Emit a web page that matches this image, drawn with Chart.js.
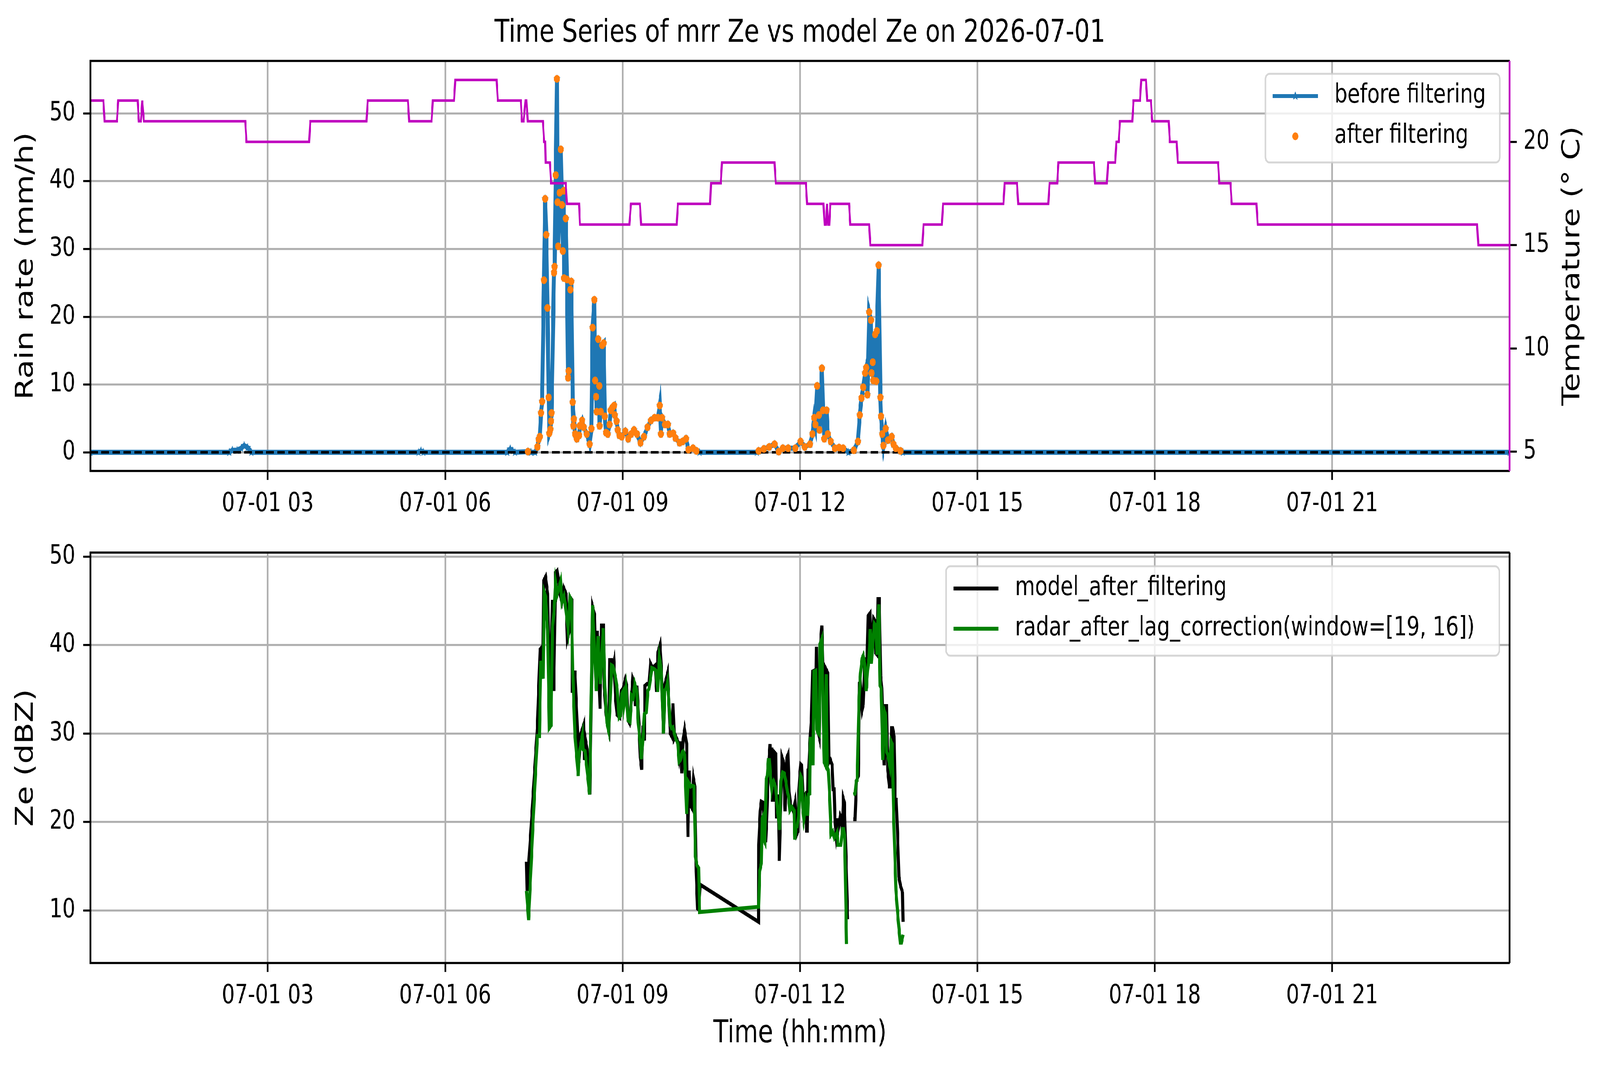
<!DOCTYPE html>
<html>
<head>
<meta charset="utf-8">
<title>Time Series of mrr Ze vs model Ze on 2026-07-01</title>
<script src="https://cdn.jsdelivr.net/npm/chart.js@4.4.1/dist/chart.umd.min.js"></script>
<style>
  html, body { margin: 0; padding: 0; background: #fff; overflow: hidden; }
  #wrap { position: relative; width: 5241px; height: 2740px; background: #fff; transform-origin: 0 0; }
  canvas { position: absolute; left: 0; }
  #topChart { top: 0; }
  #bottomChart { top: 1340px; }
</style>
</head>
<body>
<div id="wrap">
  <canvas id="topChart" width="5241" height="1380"></canvas>
  <canvas id="bottomChart" width="5241" height="1400"></canvas>
</div>
<script>
// the figure is laid out in 5241 x 2740 units and stretched to fill the window
const wrap = document.getElementById('wrap');
wrap.style.transform = 'scale(' + (window.innerWidth / 5241) + ',' + (window.innerHeight / 2740) + ')';

// all times are hours since 2026-07-01 00:00
const hourTicks = [3, 6, 9, 12, 15, 18, 21];
const rainTicks = [0, 10, 20, 30, 40, 50];
const tempTicks = [5, 10, 15, 20];
const zeTicks = [10, 20, 30, 40, 50];

// rain rate (mm/h); rainAfter is null where the filter dropped the sample
const rainTime = [
  0, 2.35, 2.40, 2.48, 2.55, 2.60, 2.66, 2.72, 5.55, 5.59, 5.63, 7.05, 7.10, 7.14, 7.18, 7.40, 7.45, 7.52,
  7.56, 7.58, 7.60, 7.62, 7.64, 7.67, 7.69, 7.71, 7.73, 7.75, 7.76, 7.78, 7.79, 7.80, 7.84, 7.85, 7.87, 7.89,
  7.90, 7.91, 7.935, 7.955, 7.975, 7.99, 8.005, 8.01, 8.04, 8.06, 8.078, 8.088, 8.117, 8.133, 8.157, 8.167,
  8.177, 8.196, 8.226, 8.265, 8.275, 8.315, 8.344, 8.394, 8.443, 8.473, 8.493, 8.522, 8.536, 8.552, 8.562,
  8.587, 8.607, 8.611, 8.631, 8.655, 8.680, 8.700, 8.720, 8.749, 8.779, 8.799, 8.828, 8.858, 8.868, 8.898,
  8.917, 8.947, 8.986, 9.046, 9.095, 9.145, 9.194, 9.243, 9.303, 9.362, 9.421, 9.480, 9.540, 9.599, 9.628,
  9.648, 9.668, 9.717, 9.767, 9.796, 9.856, 9.895, 9.964, 10.014, 10.073, 10.113, 10.191, 10.25, 10.30,
  11.27, 11.30, 11.39, 11.48, 11.57, 11.64, 11.71, 11.80, 11.92, 12.01, 12.08, 12.17, 12.21, 12.24, 12.26,
  12.29, 12.32, 12.33, 12.37, 12.39, 12.41, 12.45, 12.47, 12.52, 12.59, 12.66, 12.73, 12.82,
  12.91, 12.98, 13.01, 13.04, 13.07, 13.10, 13.12, 13.14, 13.17, 13.20, 13.21, 13.23, 13.24, 13.27, 13.29,
  13.30, 13.33, 13.36, 13.37, 13.39, 13.41, 13.45, 13.49, 13.55, 13.58, 13.62, 13.70, 13.74, 24.0
];
const rainBefore = [
  0, 0, 0.3, 0.3, 0.6, 1.0, 0.7, 0, 0, 0.2, 0, 0, 0.5, 0.2, 0, 0.1, 0, 0,
  0.8, 1.9, 2.3, 5.8, 7.5, 25.4, 37.4, 32.1, 21.3, 8.1, 2.8, 3.4, 4.6, 5.8, 26.5, 27.4, 40.9, 55.1,
  36.9, 30.4, 38.3, 44.7, 36.5, 29.7, 38.6, 25.7, 34.5, 25.5, 11.0, 12.0, 24.0, 25.2, 7.4, 3.9,
  4.9, 2.7, 2.0, 2.5, 3.9, 4.7, 3.7, 2.7, 1.2, 3.5, 18.4, 22.5, 10.6, 8.2, 6.0,
  16.7, 9.8, 3.9, 6.0, 15.8, 16.1, 5.3, 2.9, 2.7, 4.1, 6.2, 6.6, 6.9, 5.5, 4.6,
  3.3, 2.5, 2.3, 3.1, 2.0, 2.7, 3.3, 2.7, 1.4, 2.3, 3.7, 4.7, 5.1, 5.1, 6.9,
  2.7, 5.1, 4.1, 4.1, 2.7, 2.8, 2.1, 1.4, 1.6, 2.0, 0.4, 0.6, 0.2, 0,
  0, 0.2, 0.5, 0.8, 1.2, 0.1, 0.6, 0.6, 0.6, 1.6, 0.8, 1.2, 2.7, 5.1, 4.1,
  9.8, 5.5, 3.3, 12.4, 6.2, 2.0, 6.2, 2.7, 1.6, 0.6, 0.7, 0.6, 0,
  0.3, 1.6, 5.5, 8.0, 9.6, 11.7, 12.5, 8.5, 20.7, 19.5, 11.7, 13.3, 10.6, 17.4, 10.5,
  17.9, 27.6, 8.1, 5.3, 2.7, 1.0, 3.5, 1.8, 2.3, 1.2, 0.6, 0.2, 0, 0
];
const rainAfter = [
  null, null, null, null, null, null, null, null, null, null, null, null, null, null, null, 0.1, null, null,
  0.8, 1.9, 2.3, 5.8, 7.5, 25.4, 37.4, 32.1, 21.3, 8.1, 2.8, 3.4, 4.6, 5.8, 26.5, 27.4, 40.9, 55.1,
  36.9, 30.4, 38.3, 44.7, 36.5, 29.7, 38.6, 25.7, 34.5, 25.5, 11.0, 12.0, 24.0, 25.2, 7.4, 3.9,
  4.9, 2.7, 2.0, 2.5, 3.9, 4.7, 3.7, 2.7, 1.2, 3.5, 18.4, 22.5, 10.6, 8.2, 6.0,
  16.7, 9.8, 3.9, 6.0, 15.8, 16.1, 5.3, 2.9, 2.7, 4.1, 6.2, 6.6, 6.9, 5.5, 4.6,
  3.3, 2.5, 2.3, 3.1, 2.0, 2.7, 3.3, 2.7, 1.4, 2.3, 3.7, 4.7, 5.1, 5.1, 6.9,
  2.7, 5.1, 4.1, 4.1, 2.7, 2.8, 2.1, 1.4, 1.6, 2.0, 0.4, 0.6, 0.2, null,
  null, 0.2, 0.5, 0.8, 1.2, 0.1, 0.6, 0.6, 0.6, 1.6, 0.8, 1.2, 2.7, 5.1, 4.1,
  9.8, 5.5, 3.3, 12.4, 6.2, 2.0, 6.2, 2.7, 1.6, 0.6, 0.7, 0.6, null,
  0.3, 1.6, 5.5, 8.0, 9.6, 11.7, 12.5, 8.5, 20.7, 19.5, 11.7, 13.3, 10.6, 17.4, 10.5,
  17.9, 27.6, 8.1, 5.3, 2.7, 1.0, 3.5, 1.8, 2.3, 1.2, 0.6, 0.2, null, null
];
const baseTime = [0, 24];
const baseRain = [0, 0];

// temperature (deg C), corners of the 1-degree steps
const tempTime = [
  0, 0.22, 0.24, 0.45, 0.47, 0.80, 0.82, 0.855, 0.877, 0.905, 2.62, 2.64, 3.70, 3.72, 4.67, 4.69,
  5.37, 5.39, 5.77, 5.79, 6.15, 6.17, 6.87, 6.89, 7.28, 7.297, 7.327, 7.357, 7.376, 7.396,
  7.653, 7.673, 7.692, 7.70, 7.771, 7.791, 8.038, 8.058, 8.265, 8.279, 9.115, 9.141, 9.293, 9.312,
  9.915, 9.935, 10.48, 10.495, 10.66, 10.68, 11.57, 11.59, 12.10, 12.12, 12.397, 12.416, 12.440,
  12.457, 12.476, 12.495, 12.513, 12.83, 12.85, 13.17, 13.19, 14.07, 14.09, 14.40, 14.42, 15.44,
  15.46, 15.67, 15.69, 16.20, 16.22, 16.35, 16.37, 16.97, 16.99, 17.19, 17.21, 17.33, 17.35, 17.39,
  17.41, 17.62, 17.64, 17.75, 17.77, 17.85, 17.87, 17.935, 17.955, 18.235, 18.255, 18.37, 18.39,
  19.07, 19.09, 19.28, 19.30, 19.72, 19.74, 23.45, 23.47, 24.0
];
const tempValue = [
  22, 22, 21, 21, 22, 22, 21, 21, 22, 21, 21, 20, 20, 21, 21, 22,
  22, 21, 21, 22, 22, 23, 23, 22, 22, 21, 21, 22, 22, 21,
  21, 20, 20, 19, 19, 18, 18, 17, 17, 16, 16, 17, 17, 16,
  16, 17, 17, 18, 18, 19, 19, 18, 18, 17, 17, 16, 16,
  17, 16, 16, 17, 17, 16, 16, 15, 15, 16, 16, 17, 17,
  18, 18, 17, 17, 18, 18, 19, 19, 18, 18, 19, 19, 20, 20,
  21, 21, 22, 22, 23, 23, 22, 22, 21, 21, 20, 20, 19,
  19, 18, 18, 17, 17, 16, 16, 15, 15
];

// model Ze (dBZ) after filtering
const modelTime = [
  7.375, 7.385, 7.559, 7.605, 7.628, 7.651, 7.667, 7.697, 7.732, 7.750, 7.767, 7.813, 7.836, 7.866,
  7.893, 7.916, 7.939, 7.974, 8.008, 8.043, 8.066, 8.096, 8.112, 8.142, 8.151, 8.193, 8.239, 8.262,
  8.297, 8.343, 8.354, 8.377, 8.400, 8.446, 8.493, 8.527, 8.550, 8.573, 8.619, 8.642, 8.677, 8.688,
  8.723, 8.769, 8.781, 8.815, 8.838, 8.854, 8.884, 8.907, 8.953, 8.976, 9.011, 9.046, 9.069, 9.092,
  9.115, 9.138, 9.172, 9.207, 9.218, 9.242, 9.276, 9.299, 9.322, 9.345, 9.368, 9.380, 9.414, 9.449,
  9.472, 9.507, 9.553, 9.576, 9.599, 9.633, 9.656, 9.691, 9.714, 9.760, 9.783, 9.806, 9.829, 9.852,
  9.875, 9.898, 9.933, 9.956, 9.979, 10.002, 10.025, 10.048, 10.083, 10.106, 10.124, 10.147, 10.170,
  10.198, 10.221, 10.244, 10.267, 10.286, 10.313,
  11.300, 11.302, 11.327, 11.346, 11.373, 11.392, 11.419, 11.438, 11.456, 11.475, 11.493, 11.511,
  11.521, 11.534, 11.552, 11.563, 11.589, 11.600, 11.631, 11.650, 11.668, 11.696, 11.723, 11.748,
  11.760, 11.779, 11.797, 11.816, 11.843, 11.871, 11.889, 11.917, 11.945, 11.963, 11.981, 12.000,
  12.013, 12.028, 12.046, 12.065, 12.083, 12.098, 12.111, 12.124, 12.135, 12.148, 12.171, 12.194,
  12.212, 12.240, 12.264, 12.277, 12.295, 12.323, 12.347, 12.369, 12.387, 12.406, 12.430, 12.452,
  12.470, 12.489, 12.516, 12.544, 12.559, 12.577, 12.590, 12.608, 12.627, 12.640, 12.655, 12.682,
  12.701, 12.715, 12.734, 12.750, 12.774, 12.806, 12.850,
  12.903, 12.931, 12.953, 12.986, 13.005, 13.020, 13.051, 13.069, 13.097, 13.125, 13.152, 13.185,
  13.204, 13.226, 13.245, 13.263, 13.281, 13.304, 13.318, 13.341, 13.364, 13.383, 13.407, 13.425,
  13.447, 13.466, 13.484, 13.512, 13.536, 13.549, 13.567, 13.591, 13.609, 13.628, 13.650, 13.672,
  13.696, 13.733, 13.742
];
const modelZe = [
  15.5, 12.2, 30.7, 39.5, 39.7, 36.2, 47.3, 47.7, 45.8, 38.3, 30.7, 45.1, 34.8, 48.2,
  48.4, 47.3, 45.8, 44.9, 46.4, 45.8, 40.7, 41.5, 45.4, 45.1, 34.6, 37.1, 30.0, 26.7,
  30.0, 31.0, 27.0, 29.1, 28.2, 23.1, 44.3, 43.4, 35.9, 41.6, 32.8, 42.2, 42.2, 35.3,
  32.1, 30.6, 38.3, 38.3, 37.4, 38.0, 33.7, 32.1, 31.8, 34.8, 35.1, 36.1, 35.4, 31.5,
  31.2, 32.7, 36.2, 35.6, 33.1, 35.4, 31.2, 27.3, 25.9, 30.9, 29.2, 35.4, 35.6, 35.6,
  37.9, 37.4, 37.7, 34.7, 39.2, 40.0, 37.4, 30.0, 35.5, 36.8, 33.5, 30.0, 29.7, 33.4,
  29.4, 29.7, 29.1, 27.6, 29.1, 25.5, 29.4, 30.4, 28.8, 18.3, 25.8, 21.9, 21.6,
  24.9, 24.0, 14.4, 10.2, 10.1, 12.9,
  8.7, 17.4, 21.2, 22.3, 22.2, 20.4, 17.7, 20.4, 24.0, 27.0, 28.8, 24.6,
  28.4, 22.5, 22.5, 27.9, 27.7, 20.4, 23.1, 15.6, 20.4, 27.3, 26.7, 21.2,
  23.7, 27.3, 27.6, 23.4, 21.7, 21.6, 21.2, 22.2, 18.6, 18.9, 23.4, 25.5,
  26.5, 26.4, 23.4, 20.4, 23.1, 23.2, 19.0, 19.0, 25.8, 25.8, 29.4, 31.8,
  37.0, 37.1, 32.4, 39.8, 30.6, 29.7, 40.1, 42.2, 37.7, 29.7, 37.4, 37.1,
  36.8, 26.7, 27.0, 26.4, 23.7, 23.7, 20.4, 18.9, 20.4, 18.9, 19.5, 20.7,
  20.4, 18.9, 22.6, 22.2, 16.8, 9.0, null,
  20.3, 20.3, 24.6, 25.2, 35.7, 35.8, 32.7, 33.3, 38.6, 35.1, 43.3, 43.6,
  37.9, 40.7, 43.0, 42.8, 39.1, 38.9, 45.2, 45.2, 36.5, 35.1, 29.4, 26.4,
  33.1, 33.1, 25.8, 24.0, 24.0, 30.6, 30.6, 29.7, 22.5, 22.5, 18.6, 13.8,
  12.9, 12.0, 8.7
];

// radar Ze (dBZ) after lag correction
const radarTime = [
  7.375, 7.410, 7.479, 7.559, 7.594, 7.617, 7.658, 7.674, 7.697, 7.732, 7.760, 7.790, 7.813, 7.843,
  7.866, 7.893, 7.921, 7.951, 7.974, 8.008, 8.032, 8.078, 8.112, 8.135, 8.158, 8.193, 8.228, 8.250,
  8.262, 8.320, 8.331, 8.366, 8.400, 8.442, 8.493, 8.527, 8.557, 8.585, 8.624, 8.672, 8.700, 8.735,
  8.764, 8.792, 8.815, 8.838, 8.861, 8.884, 8.907, 8.942, 8.965, 8.988, 9.011, 9.023, 9.057, 9.092,
  9.126, 9.149, 9.179, 9.207, 9.242, 9.265, 9.288, 9.318, 9.345, 9.368, 9.403, 9.426, 9.449, 9.495,
  9.530, 9.565, 9.594, 9.622, 9.645, 9.668, 9.691, 9.714, 9.737, 9.760, 9.783, 9.806, 9.829, 9.852,
  9.875, 9.898, 9.933, 9.956, 9.979, 10.009, 10.025, 10.048, 10.083, 10.106, 10.124, 10.152, 10.180,
  10.209, 10.232, 10.256, 10.286, 10.302,
  11.300, 11.318, 11.346, 11.360, 11.379, 11.386, 11.405, 11.429, 11.447, 11.465, 11.484, 11.502,
  11.521, 11.539, 11.552, 11.585, 11.613, 11.631, 11.655, 11.677, 11.705, 11.733, 11.760, 11.779,
  11.806, 11.828, 11.862, 11.899, 11.913, 11.932, 11.954, 11.976, 12.013, 12.028, 12.046, 12.065,
  12.079, 12.098, 12.116, 12.129, 12.142, 12.166, 12.175, 12.203, 12.221, 12.234, 12.267, 12.282,
  12.300, 12.323, 12.338, 12.369, 12.396, 12.411, 12.424, 12.443, 12.461, 12.479, 12.498, 12.525,
  12.553, 12.581, 12.608, 12.627, 12.640, 12.664, 12.691, 12.719, 12.737, 12.756, 12.787, 12.850,
  12.903, 12.931, 12.950, 12.968, 12.990, 13.001, 13.023, 13.051, 13.069, 13.093, 13.119, 13.143,
  13.167, 13.189, 13.208, 13.235, 13.259, 13.281, 13.300, 13.315, 13.333, 13.355, 13.373, 13.401,
  13.433, 13.447, 13.466, 13.484, 13.517, 13.540, 13.558, 13.585, 13.622, 13.659, 13.696, 13.715,
  13.742
];
const radarZe = [
  12.2, 8.9, 18.9, 29.7, 29.7, 38.2, 36.2, 46.0, 45.5, 41.6, 30.6, 30.9, 41.9, 43.9,
  47.0, 45.7, 46.4, 47.2, 44.8, 45.5, 44.5, 41.8, 45.4, 45.1, 36.8, 30.0, 27.0, 25.2,
  27.6, 29.8, 28.2, 28.0, 25.8, 23.1, 44.5, 38.9, 34.8, 41.0, 35.6, 41.9, 35.3, 31.2,
  30.3, 33.9, 37.7, 37.6, 37.0, 36.2, 35.1, 31.8, 32.0, 34.5, 34.8, 33.3, 35.1, 31.5,
  31.3, 34.3, 34.0, 35.6, 34.8, 31.2, 29.7, 27.1, 29.4, 32.2, 32.4, 34.8, 35.1, 37.4,
  37.3, 37.1, 34.7, 38.6, 37.7, 34.7, 30.0, 34.9, 35.1, 35.8, 33.5, 31.0, 30.6, 30.7,
  30.0, 29.4, 28.9, 26.8, 27.0, 27.9, 28.0, 27.6, 20.9, 24.6, 24.4, 24.0, 24.1,
  24.0, 16.1, 15.1, 14.8, 9.8,
  10.4, 14.4, 15.3, 20.4, 20.7, 18.0, 17.7, 24.9, 25.2, 27.0, 27.0, 25.2,
  23.7, 24.4, 24.6, 24.0, 21.9, 20.7, 19.1, 24.6, 25.6, 25.5, 24.6, 23.7,
  22.9, 21.3, 21.7, 21.3, 18.0, 19.5, 19.5, 20.7, 25.2, 25.0, 21.6, 20.3,
  20.9, 22.5, 22.0, 20.7, 23.1, 23.2, 29.4, 29.4, 26.4, 37.0, 37.1, 30.6,
  30.1, 29.9, 40.1, 40.7, 30.9, 26.7, 26.5, 36.7, 26.1, 25.9, 23.4, 18.6,
  18.9, 18.2, 18.5, 18.8, 17.4, 17.4, 17.4, 19.2, 19.2, 18.3, 6.2, null,
  23.1, 23.2, 24.6, 24.7, 31.8, 34.2, 36.8, 38.5, 38.8, 37.9, 34.8, 37.1,
  38.5, 41.8, 37.9, 40.6, 42.4, 42.2, 38.9, 42.5, 44.6, 35.4, 35.1, 27.0,
  32.4, 32.1, 27.9, 27.6, 26.4, 29.1, 28.8, 20.4, 12.3, 9.0, 6.35, 6.35,
  7.25
];

const BLUE = '#1f77b4', ORANGE = '#ff7f0e', MAGENTA = '#bf00bf', GREEN = '#008000';
const FONT = 'DejaVu Sans';
const tickFont = { family: FONT, size: 67 };
const labelFont = { family: FONT, size: 80, lineHeight: 1.2, weight: 'normal' };
const GRID = '#b0b0b0';

const pts = (xs, ys) => xs.map((x, i) => ({ x: x, y: ys[i] }));

// filled five point star, like the matplotlib '*' marker
function makeStar(r, color) {
  const c = document.createElement('canvas');
  c.width = c.height = Math.ceil(2 * r + 2);
  const g = c.getContext('2d');
  g.translate(c.width / 2, c.height / 2);
  g.beginPath();
  for (let k = 0; k < 10; k++) {
    const rad = k % 2 ? r * 0.42 : r;
    const a = -Math.PI / 2 + k * Math.PI / 5;
    g.lineTo(rad * Math.cos(a), rad * Math.sin(a));
  }
  g.closePath();
  g.fillStyle = color;
  g.fill();
  return c;
}
const star = makeStar(12, BLUE);

function hourLabel(v) {
  return '07-01 ' + String(v).padStart(2, '0');
}

function xAxis(height, title) {
  return {
    type: 'linear', min: 0, max: 24,
    afterBuildTicks: s => { s.ticks = hourTicks.map(v => ({ value: v })); },
    afterFit: s => { s.height = height; },
    grid: { color: GRID, lineWidth: 5.3, tickColor: '#000', tickWidth: 5.3, tickLength: 23 },
    border: { display: false },
    ticks: { font: tickFont, color: '#000', padding: 22, maxRotation: 0, autoSkip: false, callback: hourLabel },
    title: title
      ? { display: true, text: title, font: labelFont, color: '#000', padding: { top: 0, bottom: 44 } }
      : { display: false }
  };
}

function yAxis(min, max, tickList, title) {
  return {
    type: 'linear', position: 'left', min: min, max: max,
    afterBuildTicks: s => { s.ticks = tickList.map(v => ({ value: v })); },
    afterFit: s => { s.width = 296; },
    grid: { color: GRID, lineWidth: 5.3, tickColor: '#000', tickWidth: 5.3, tickLength: 23 },
    border: { display: false },
    ticks: { font: tickFont, color: '#000', padding: 26 },
    title: { display: true, text: title, font: labelFont, color: '#000', padding: { top: 38, bottom: 0 } }
  };
}

// axes frame drawn over the data, like matplotlib spines
function framePlugin(rightColor) {
  return {
    id: 'frame',
    afterDatasetsDraw(chart) {
      const { ctx, chartArea: a } = chart;
      ctx.save();
      ctx.lineWidth = 5.5;
      ctx.strokeStyle = '#000';
      ctx.beginPath();
      ctx.moveTo(a.right, a.top);
      ctx.lineTo(a.left, a.top);
      ctx.lineTo(a.left, a.bottom);
      ctx.lineTo(a.right, a.bottom);
      ctx.stroke();
      ctx.strokeStyle = rightColor;
      ctx.beginPath();
      ctx.moveTo(a.right, a.top);
      ctx.lineTo(a.right, a.bottom);
      ctx.stroke();
      ctx.restore();
    }
  };
}

function legendPlugin(box, rows) {
  return {
    id: 'legendBox',
    afterDraw(chart) {
      const ctx = chart.ctx;
      ctx.save();
      ctx.beginPath();
      ctx.roundRect(box.x, box.y, box.w, box.h, 14);
      ctx.fillStyle = 'rgba(255,255,255,0.8)';
      ctx.fill();
      ctx.lineWidth = 5;
      ctx.strokeStyle = 'rgba(204,204,204,0.8)';
      ctx.stroke();
      ctx.font = '67px "' + FONT + '"';
      ctx.textBaseline = 'middle';
      rows.forEach((r, i) => {
        const y = box.rowY + i * 103;
        const hx = box.x + 24, hw = 148;
        if (r.line) {
          ctx.strokeStyle = r.line;
          ctx.lineWidth = 10;
          ctx.beginPath();
          ctx.moveTo(hx, y);
          ctx.lineTo(hx + hw, y);
          ctx.stroke();
        }
        if (r.star) ctx.drawImage(star, hx + hw / 2 - star.width / 2, y - star.height / 2);
        if (r.dot) {
          ctx.fillStyle = r.dot;
          ctx.beginPath();
          ctx.arc(hx + hw / 2, y, 10, 0, Math.PI * 2);
          ctx.fill();
        }
        ctx.fillStyle = '#000';
        ctx.fillText(r.text, box.x + 226, y);
      });
      ctx.restore();
    }
  };
}

const rightTitle = {
  id: 'rightTitle',
  afterDraw(chart) {
    const { ctx, chartArea: a } = chart;
    ctx.save();
    ctx.translate(5152, (a.top + a.bottom) / 2);
    ctx.rotate(-Math.PI / 2);
    ctx.font = '80px "' + FONT + '"';
    ctx.fillStyle = '#000';
    ctx.textAlign = 'center';
    ctx.textBaseline = 'middle';
    ctx.fillText('Temperature (\u00b0 C)', 0, 0);
    ctx.restore();
  }
};

const afterPts = pts(rainTime, rainAfter).filter(p => p.y !== null);

new Chart(document.getElementById('topChart'), {
  type: 'line',
  data: {
    datasets: [
      { label: 'Temperature', data: pts(tempTime, tempValue), yAxisID: 'y2',
        borderColor: MAGENTA, borderWidth: 6.5, pointRadius: 0, fill: false },
      { label: 'after filtering', data: afterPts, yAxisID: 'y', showLine: false,
        pointRadius: 10, pointBackgroundColor: ORANGE, pointBorderWidth: 0 },
      { label: 'zero', data: pts(baseTime, baseRain), yAxisID: 'y',
        borderColor: '#000', borderWidth: 6.7, borderDash: [25, 11], pointRadius: 0 },
      { label: 'before filtering', data: pts(rainTime, rainBefore), yAxisID: 'y',
        borderColor: BLUE, borderWidth: 13, pointStyle: star, pointRadius: 9 }
    ]
  },
  options: {
    responsive: false, animation: false, devicePixelRatio: 1, events: [],
    layout: { autoPadding: false, padding: 0 },
    plugins: {
      legend: { display: false },
      tooltip: { enabled: false },
      title: {
        display: true, text: 'Time Series of mrr Ze vs model Ze on 2026-07-01',
        font: labelFont, color: '#000', padding: { top: 38, bottom: 22 }
      }
    },
    scales: {
      x: xAxis(174, null),
      y: yAxis(-2.75, 57.75, rainTicks, 'Rain rate (mm/h)'),
      y2: {
        type: 'linear', position: 'right', min: 4.07, max: 23.92,
        afterBuildTicks: s => { s.ticks = tempTicks.map(v => ({ value: v })); },
        afterFit: s => { s.width = 296; },
        grid: { drawOnChartArea: false, tickColor: '#000', tickWidth: 5.3, tickLength: 23 },
        border: { display: false },
        ticks: { font: tickFont, color: '#000', padding: 22 }
      }
    }
  },
  plugins: [
    framePlugin(MAGENTA),
    legendPlugin({ x: 4145, y: 189, w: 768, h: 227, rowY: 246 }, [
      { text: 'before filtering', line: BLUE, star: true },
      { text: 'after filtering', dot: ORANGE }
    ]),
    rightTitle
  ]
});

new Chart(document.getElementById('bottomChart'), {
  type: 'line',
  data: {
    datasets: [
      { label: 'radar_after_lag_correction(window=[19, 16])', data: pts(radarTime, radarZe),
        borderColor: GREEN, borderWidth: 10, pointRadius: 0, spanGaps: false },
      { label: 'model_after_filtering', data: pts(modelTime, modelZe),
        borderColor: '#000', borderWidth: 10, pointRadius: 0, spanGaps: false }
    ]
  },
  options: {
    responsive: false, animation: false, devicePixelRatio: 1, events: [],
    layout: { autoPadding: false, padding: { top: 75, right: 296, left: 0, bottom: 0 } },
    plugins: { legend: { display: false }, tooltip: { enabled: false } },
    scales: {
      x: xAxis(274, 'Time (hh:mm)'),
      y: yAxis(4.05, 50.45, zeTicks, 'Ze (dBZ)')
    }
  },
  plugins: [
    framePlugin('#000'),
    legendPlugin({ x: 3099, y: 110, w: 1812, h: 229, rowY: 167 }, [
      { text: 'model_after_filtering', line: '#000' },
      { text: 'radar_after_lag_correction(window=[19, 16])', line: GREEN }
    ])
  ]
});
</script>
</body>
</html>
